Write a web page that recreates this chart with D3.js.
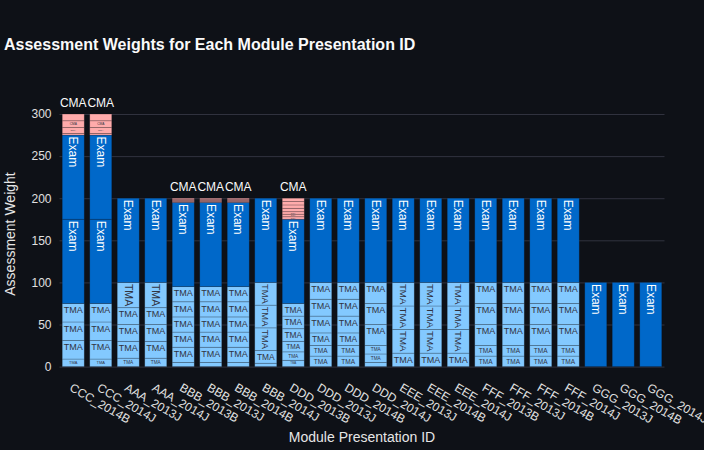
<!DOCTYPE html>
<html>
<head>
<meta charset="utf-8">
<script src="https://cdn.jsdelivr.net/npm/d3@7"></script>
<style>
html,body{margin:0;padding:0;background:#0e1117;}
svg{display:block;}
</style>
</head>
<body>
<svg id="chart" width="704" height="450"></svg>
<script>
// ---------- data ----------
const modules = ["CCC_2014B","CCC_2014J","AAA_2013J","AAA_2014J","BBB_2013B","BBB_2013J","BBB_2014B","BBB_2014J",
  "DDD_2013B","DDD_2013J","DDD_2014B","DDD_2014J","EEE_2013J","EEE_2014B","EEE_2014J",
  "FFF_2013B","FFF_2013J","FFF_2014B","FFF_2014J","GGG_2013J","GGG_2014B","GGG_2014J"];

const tmaWeights = [
  [9,22,22,22],[9,22,22,22],
  [10,20,20,20,30],[10,20,20,20,30],
  [5,18,18,18,18,18],[5,18,18,18,18,18],[5,18,18,18,18,18],[4,15,27,27,27],
  [7.5,10,12.5,15,15,15],[12.5,12.5,15,20,20,20],[12.5,12.5,15,20,20,20],[5,10,10,25,25,25],
  [16,28,28,28],[16,28,28,28],[16,28,28,28],
  [12.5,12.5,25,25,25],[12.5,12.5,25,25,25],[12.5,12.5,25,25,25],[12.5,12.5,25,25,25],
  [],[],[]
];
const examWeights = [
  [100,100],[100,100],
  [100],[100],
  [100],[100],[100],[100],
  [100],[100],[100],[100],
  [100],[100],[100],
  [100],[100],[100],[100],
  [100],[100],[100]
];
const cmaWeights = [
  [2,7,8,8],[2,7,8,8],
  [],[],
  [1,1,1,1,1],[1,1,1,1,1],[1,1,1,1,1],[],
  [3,3,3,4,4,4,4],[],[],[],
  [],[],[],
  [],[],[],[],
  [],[],[]
];
const assessmentTypes = ["TMA","Exam","CMA"];
const yTicks = [0,50,100,150,200,250,300];

// ---------- style ----------
const W = 704, H = 450;
const FONT = "'Liberation Sans', Arial, Helvetica, sans-serif";
const colors = {TMA:"#83c9ff", Exam:"#0068c9", CMA:"#ffabab"};
const insideText = {TMA:"#31333F", Exam:"#ffffff", CMA:"#31333F"};
const plot = {left:59.5, right:664.5, top:101.4, bottom:366.6};

const svg = d3.select("#chart").style("font-family", FONT);
svg.append("rect").attr("width", W).attr("height", H).attr("fill", "#0e1117");

const weightsByType = {TMA: tmaWeights, Exam: examWeights, CMA: cmaWeights};

// build stacked segments
const segments = [];
modules.forEach((m, i) => {
  let acc = 0;
  const list = [];
  assessmentTypes.forEach(t => {
    weightsByType[t][i].forEach(w => {
      list.push({module:m, type:t, y0:acc, y1:acc + w});
      acc += w;
    });
  });
  if (list.length) list[list.length - 1].top = true;
  segments.push(...list);
});
const maxTotal = d3.max(segments, d => d.y1);

const x = d3.scaleBand().domain(modules).range([plot.left, plot.right]).paddingInner(0.2).paddingOuter(0.1);
const y = d3.scaleLinear().domain([0, maxTotal * 1.05]).range([plot.bottom, plot.top]);

// grid + y axis
const gy = svg.append("g").attr("transform", `translate(${plot.left},0)`)
  .call(d3.axisLeft(y).tickValues(yTicks).tickSize(-(plot.right - plot.left)).tickPadding(8));
gy.select(".domain").remove();
gy.selectAll(".tick line").attr("stroke", "#31333F").attr("stroke-width", 1);
gy.selectAll(".tick text").attr("fill", "#e0e0e0").style("font-size", "12px").style("font-family", FONT);

// bars
svg.append("g").selectAll("rect").data(segments).join("rect")
  .attr("x", d => x(d.module))
  .attr("width", x.bandwidth())
  .attr("y", d => y(d.y1))
  .attr("height", d => y(d.y0) - y(d.y1))
  .attr("fill", d => colors[d.type])
  .attr("stroke", "#0e1117").attr("stroke-opacity", 0.25).attr("stroke-width", 0.8);

// text measurement
const meas = svg.append("text").style("font-size", "12px").style("font-family", FONT).attr("opacity", 0);
const textW = {};
assessmentTypes.forEach(t => { meas.text(t); textW[t] = meas.node().getComputedTextLength(); });
meas.remove();
const TH = 13.8, TEXTPAD = 1.5;

const labelG = svg.append("g");
segments.forEach(d => {
  const bw = x.bandwidth();
  const cx = x(d.module) + bw / 2;
  const yTop = y(d.y1), yBot = y(d.y0);
  let lx = bw, ly = yBot - yTop;
  if (ly <= 0) return;
  const pad = (lx > 2 * TEXTPAD && ly > 2 * TEXTPAD) ? TEXTPAD : 0;
  lx -= 2 * pad; ly -= 2 * pad;
  const tw = textW[d.type], th = TH;
  let rotate = false;
  if (!(tw <= lx && th <= ly) && (tw > lx || th > ly) &&
      (!(tw > ly || th > lx) || ((tw < th) !== (lx < ly)))) rotate = true;
  const ex = rotate ? th : tw, ey = rotate ? tw : th;
  const scale = Math.min(1, lx / ex, ly / ey);
  if (d.top && scale < 1) {
    labelG.append("text")
      .attr("x", cx).attr("y", yTop - 7)
      .attr("text-anchor", "middle")
      .attr("fill", "#fafafa").style("font-size", "12px")
      .text(d.type);
    return;
  }
  const fs = 12 * scale;
  if (fs < 1.5) return;
  const cy = yTop + pad + ey * scale / 2;
  labelG.append("text")
    .attr("transform", `translate(${cx},${cy})` + (rotate ? " rotate(90)" : ""))
    .attr("text-anchor", "middle").attr("dy", "0.35em")
    .attr("fill", insideText[d.type]).style("font-size", fs.toFixed(2) + "px")
    .text(d.type);
});

// x axis
const gx = svg.append("g").attr("transform", `translate(0,${plot.bottom})`)
  .call(d3.axisBottom(x).tickSize(0));
gx.select(".domain").remove();
gx.selectAll(".tick text")
  .attr("y", 0).attr("dy", 0).attr("text-anchor", "start")
  .attr("transform", "translate(-4.5,23.5) rotate(30)")
  .attr("fill", "#e0e0e0").style("font-size", "12px").style("font-family", FONT);

// titles
svg.append("text").attr("x", 4).attr("y", 50)
  .attr("fill", "#fafafa").style("font-size", "16px").style("font-weight", "bold")
  .text("Assessment Weights for Each Module Presentation ID");
svg.append("text").attr("x", (plot.left + plot.right) / 2).attr("y", 441.5)
  .attr("text-anchor", "middle").attr("fill", "#e6e6e6").style("font-size", "14px")
  .text("Module Presentation ID");
svg.append("text")
  .attr("transform", `translate(15,${(plot.top + plot.bottom) / 2}) rotate(-90)`)
  .attr("text-anchor", "middle").attr("fill", "#e6e6e6").style("font-size", "14px")
  .text("Assessment Weight");
</script>
</body>
</html>
